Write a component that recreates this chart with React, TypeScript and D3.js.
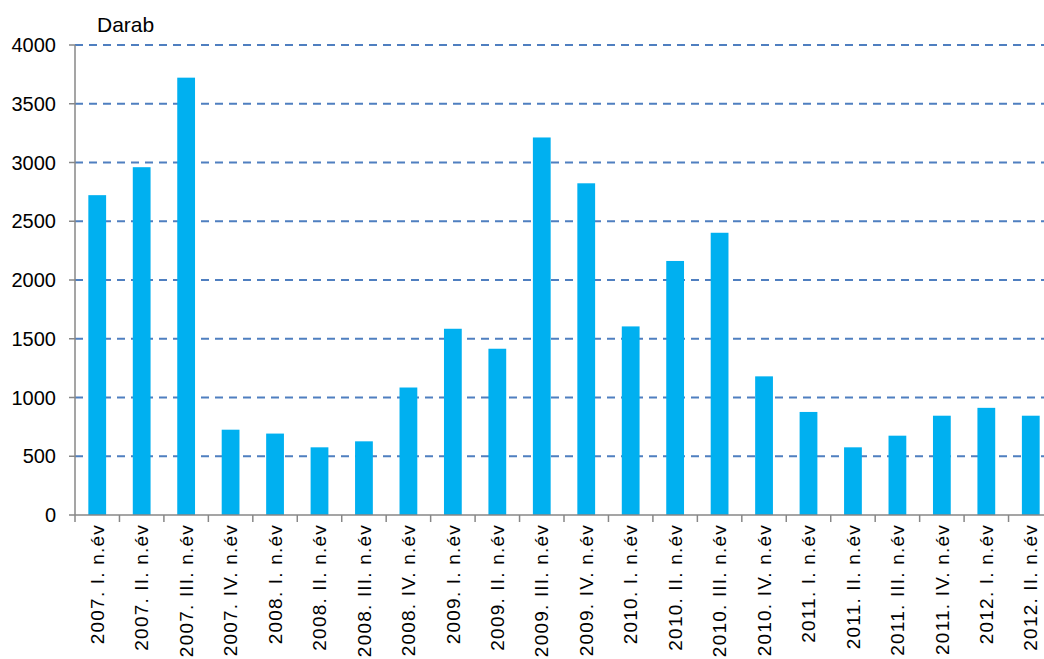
import React from "react";
import * as d3 from "d3";

// Quarterly counts (darab) by half-year label
const categories = [
  "2007. I. n.év", "2007. II. n.év", "2007. III. n.év", "2007. IV. n.év",
  "2008. I. n.év", "2008. II. n.év", "2008. III. n.év", "2008. IV. n.év",
  "2009. I. n.év", "2009. II. n.év", "2009. III. n.év", "2009. IV. n.év",
  "2010. I. n.év", "2010. II. n.év", "2010. III. n.év", "2010. IV. n.év",
  "2011. I. n.év", "2011. II. n.év", "2011. III. n.év", "2011. IV. n.év",
  "2012. I. n.év", "2012. II. n.év",
];
const values = [
  2722, 2960, 3722, 726, 693, 576, 627, 1085,
  1585, 1415, 3213, 2823, 1605, 2162, 2402, 1180,
  877, 576, 675, 845, 912, 845,
];
const yTicks = [0, 500, 1000, 1500, 2000, 2500, 3000, 3500, 4000];
const unitLabel = "Darab";

const W = 1044;
const H = 659;
const M = { left: 75, top: 45, bottom: 144 };
const plotRight = 1053;

export default function App() {
  const x = d3
    .scaleBand<string>()
    .domain(categories)
    .range([M.left, plotRight])
    .paddingInner(0.6)
    .paddingOuter(0.3);
  const y = d3.scaleLinear().domain([0, 4000]).range([H - M.bottom, M.top]);
  const step = x.step();
  const y0 = y(0);
  const font = "'Liberation Sans', Arial, sans-serif";
  const axisColor = "#878787";

  return (
    <div style={{ position: "absolute", left: 0, top: 0 }}>
      <svg width={W} height={H} style={{ display: "block", background: "#fff" }}>
        {/* horizontal dashed gridlines */}
        {yTicks
          .filter((t) => t > 0)
          .map((t) => (
            <line
              key={"g" + t}
              x1={M.left}
              x2={W}
              y1={y(t)}
              y2={y(t)}
              stroke="#4F7FC0"
              strokeWidth={2}
              strokeDasharray="8,6"
            />
          ))}

        {/* bars */}
        {categories.map((c, i) => (
          <rect
            key={c}
            x={x(c)}
            y={y(values[i])}
            width={x.bandwidth()}
            height={y0 - y(values[i])}
            fill="#00B0F0"
          />
        ))}

        {/* y axis */}
        <line x1={M.left} x2={M.left} y1={y(4000)} y2={y0} stroke={axisColor} strokeWidth={1.5} />
        {yTicks.map((t) => (
          <g key={"y" + t}>
            <line x1={M.left - 6} x2={M.left} y1={y(t)} y2={y(t)} stroke={axisColor} strokeWidth={1.5} />
            <text
              x={56}
              y={y(t)}
              dy="0.35em"
              textAnchor="end"
              fontFamily={font}
              fontSize={20}
              fill="#000"
            >
              {t}
            </text>
          </g>
        ))}

        {/* x axis */}
        <line x1={M.left} x2={W} y1={y0} y2={y0} stroke={axisColor} strokeWidth={1.5} />
        {d3.range(categories.length + 1).map((k) => (
          <line
            key={"xt" + k}
            x1={M.left + k * step}
            x2={M.left + k * step}
            y1={y0}
            y2={y0 + 7}
            stroke={axisColor}
            strokeWidth={1.5}
          />
        ))}
        {categories.map((c) => {
          const cx = (x(c) ?? 0) + x.bandwidth() / 2;
          return (
            <text
              key={"xl" + c}
              transform={`translate(${cx},${y0 + 9}) rotate(-90)`}
              dy="0.35em"
              textAnchor="end"
              fontFamily={font}
              fontSize={19}
              letterSpacing={1.2}
              fill="#000"
            >
              {c}
            </text>
          );
        })}

        {/* unit label */}
        <text x={97} y={32} fontFamily={font} fontSize={21} fill="#000">
          {unitLabel}
        </text>
      </svg>
    </div>
  );
}
